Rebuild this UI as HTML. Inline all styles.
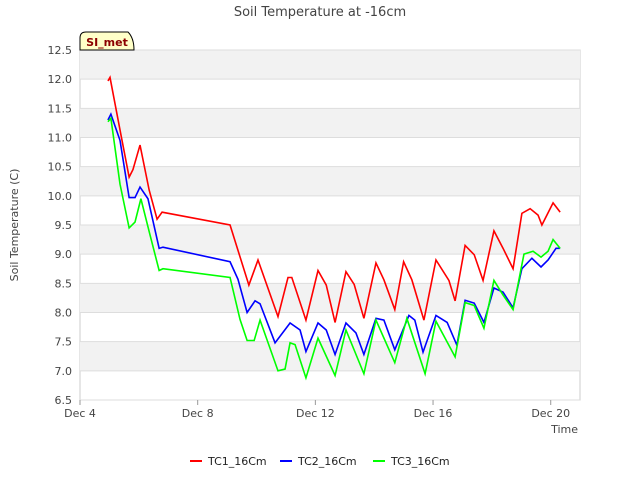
<!DOCTYPE html>
<html><head><meta charset="utf-8"><style>
body{margin:0;background:#fff;font-family:"Liberation Sans",sans-serif}
svg text{font-family:"DejaVu Sans","Liberation Sans",sans-serif}
</style></head><body>
<svg id="c" width="640" height="480">
<text x="320" y="16" text-anchor="middle" font-size="13" fill="#444">Soil Temperature at -16cm</text>
<rect x="80" y="50" width="500" height="350" fill="#fff" stroke="#ccc"/>
<g id="grid"></g><g id="axes"></g><g id="series"></g>
<text x="18" y="225" transform="rotate(-90 18 225)" text-anchor="middle" font-size="11" fill="#444">Soil Temperature (C)</text>
<text x="578" y="433" text-anchor="end" font-size="11" fill="#444">Time</text>
<g><path d="M80,50 L80,38 Q80,32 86,32 L128,32 Q134,38 134,50 Z" fill="#ffffc8" stroke="#000"/><text x="107" y="46" text-anchor="middle" font-size="11" font-weight="bold" fill="#8b0000">SI_met</text></g>
<g id="legend"></g>
</svg>
<script>
const yTicks=[6.5,7.0,7.5,8.0,8.5,9.0,9.5,10.0,10.5,11.0,11.5,12.0,12.5];
const xTickDays=[0,4,8,12,16];
const xTickLabels=["Dec 4","Dec 8","Dec 12","Dec 16","Dec 20"];
const seriesNames=["TC1_16Cm","TC2_16Cm","TC3_16Cm"];
const seriesColors=["#ff0000","#0000ff","#00ff00"];
const tc1Days=[0.95,1.02,1.39,1.67,1.8,2.04,2.35,2.62,2.79,5.1,5.74,6.05,6.73,7.07,7.2,7.68,8.09,8.37,8.67,9.04,9.32,9.65,10.06,10.33,10.7,11.0,11.28,11.69,12.1,12.54,12.75,13.09,13.4,13.7,14.07,14.38,14.72,15.02,15.3,15.57,15.7,16.08,16.32];
const tc1Vals=[11.97,12.03,11.05,10.32,10.45,10.87,10.1,9.6,9.72,9.5,8.47,8.9,7.93,8.6,8.6,7.87,8.72,8.47,7.83,8.7,8.48,7.9,8.85,8.56,8.05,8.87,8.56,7.87,8.9,8.55,8.2,9.15,8.99,8.55,9.4,9.1,8.75,9.7,9.78,9.67,9.5,9.88,9.72];
const tc2Days=[0.95,1.05,1.36,1.67,1.87,2.04,2.31,2.69,2.82,5.1,5.37,5.68,5.95,6.12,6.63,7.14,7.48,7.68,8.09,8.37,8.67,9.04,9.38,9.65,10.06,10.33,10.7,11.18,11.38,11.66,12.1,12.48,12.81,13.09,13.4,13.73,14.07,14.38,14.72,15.02,15.36,15.67,15.91,16.18,16.32];
const tc2Vals=[11.3,11.4,10.95,9.97,9.97,10.15,9.95,9.1,9.12,8.87,8.57,8.0,8.2,8.15,7.48,7.82,7.7,7.33,7.82,7.7,7.28,7.82,7.65,7.28,7.9,7.87,7.36,7.95,7.87,7.32,7.95,7.83,7.44,8.21,8.16,7.83,8.42,8.35,8.08,8.75,8.93,8.78,8.9,9.1,9.1];
const tc3Days=[0.95,1.05,1.36,1.67,1.87,2.07,2.38,2.69,2.82,5.1,5.44,5.68,5.92,6.12,6.73,6.97,7.14,7.31,7.68,8.09,8.67,9.04,9.65,10.06,10.7,11.11,11.73,12.1,12.75,13.09,13.4,13.73,14.07,14.38,14.72,15.09,15.4,15.67,15.91,16.08,16.32];
const tc3Vals=[11.27,11.33,10.2,9.45,9.55,9.95,9.33,8.72,8.75,8.6,7.88,7.52,7.52,7.87,7.0,7.03,7.48,7.45,6.88,7.56,6.92,7.7,6.95,7.87,7.14,7.9,6.95,7.85,7.24,8.17,8.12,7.73,8.55,8.3,8.05,9.0,9.05,8.95,9.05,9.25,9.1];
const NS="http://www.w3.org/2000/svg";
const X=d=>80+d*29.42, Y=v=>400-(v-6.5)*58.333;
function mk(tag,attrs,parent){const e=document.createElementNS(NS,tag);for(const k in attrs)e.setAttribute(k,attrs[k]);parent.appendChild(e);return e;}
const grid=document.getElementById('grid'),axes=document.getElementById('axes'),ser=document.getElementById('series'),leg=document.getElementById('legend');
for(let i=0;i<yTicks.length-1;i++){
  if(i%2===1){const b=mk('rect',{x:80,y:Y(yTicks[i+1]),width:500,height:Y(yTicks[i])-Y(yTicks[i+1]),fill:'#f2f2f2'},grid);
  
  }
}
yTicks.forEach(v=>{
  const l=mk('line',{x1:80,x2:580,y1:Y(v),y2:Y(v),stroke:'#ddd'},grid);
  
  
  const t=mk('text',{x:72,y:Y(v)+4,'text-anchor':'end','font-size':11,fill:'#444'},axes);
  t.textContent=v.toFixed(1);
  
  
});
xTickDays.forEach((d,i)=>{
  mk('line',{x1:X(d),x2:X(d),y1:400,y2:405,stroke:'#999'},axes);
  const t=mk('text',{x:X(d),y:417,'text-anchor':'middle','font-size':11,fill:'#444'},axes);
  t.textContent=xTickLabels[i];
  
  
});
const all=[[tc1Days,tc1Vals],[tc2Days,tc2Vals],[tc3Days,tc3Vals]];
all.forEach((s,i)=>{
  const p=mk('polyline',{points:s[0].map((d,j)=>X(d)+','+Y(s[1][j])).join(' '),fill:'none',stroke:seriesColors[i],'stroke-width':1.6},ser);
  
  
});
const lx=[190,280,373];
seriesNames.forEach((n,i)=>{
  const g=mk('g',{},leg);
  
  
  mk('line',{x1:lx[i],x2:lx[i]+12,y1:461,y2:461,stroke:seriesColors[i],'stroke-width':2},g);
  const t=mk('text',{x:lx[i]+18,y:465,'font-size':11,fill:'#222'},g);
  t.textContent=n;
});
</script>
</body></html>
